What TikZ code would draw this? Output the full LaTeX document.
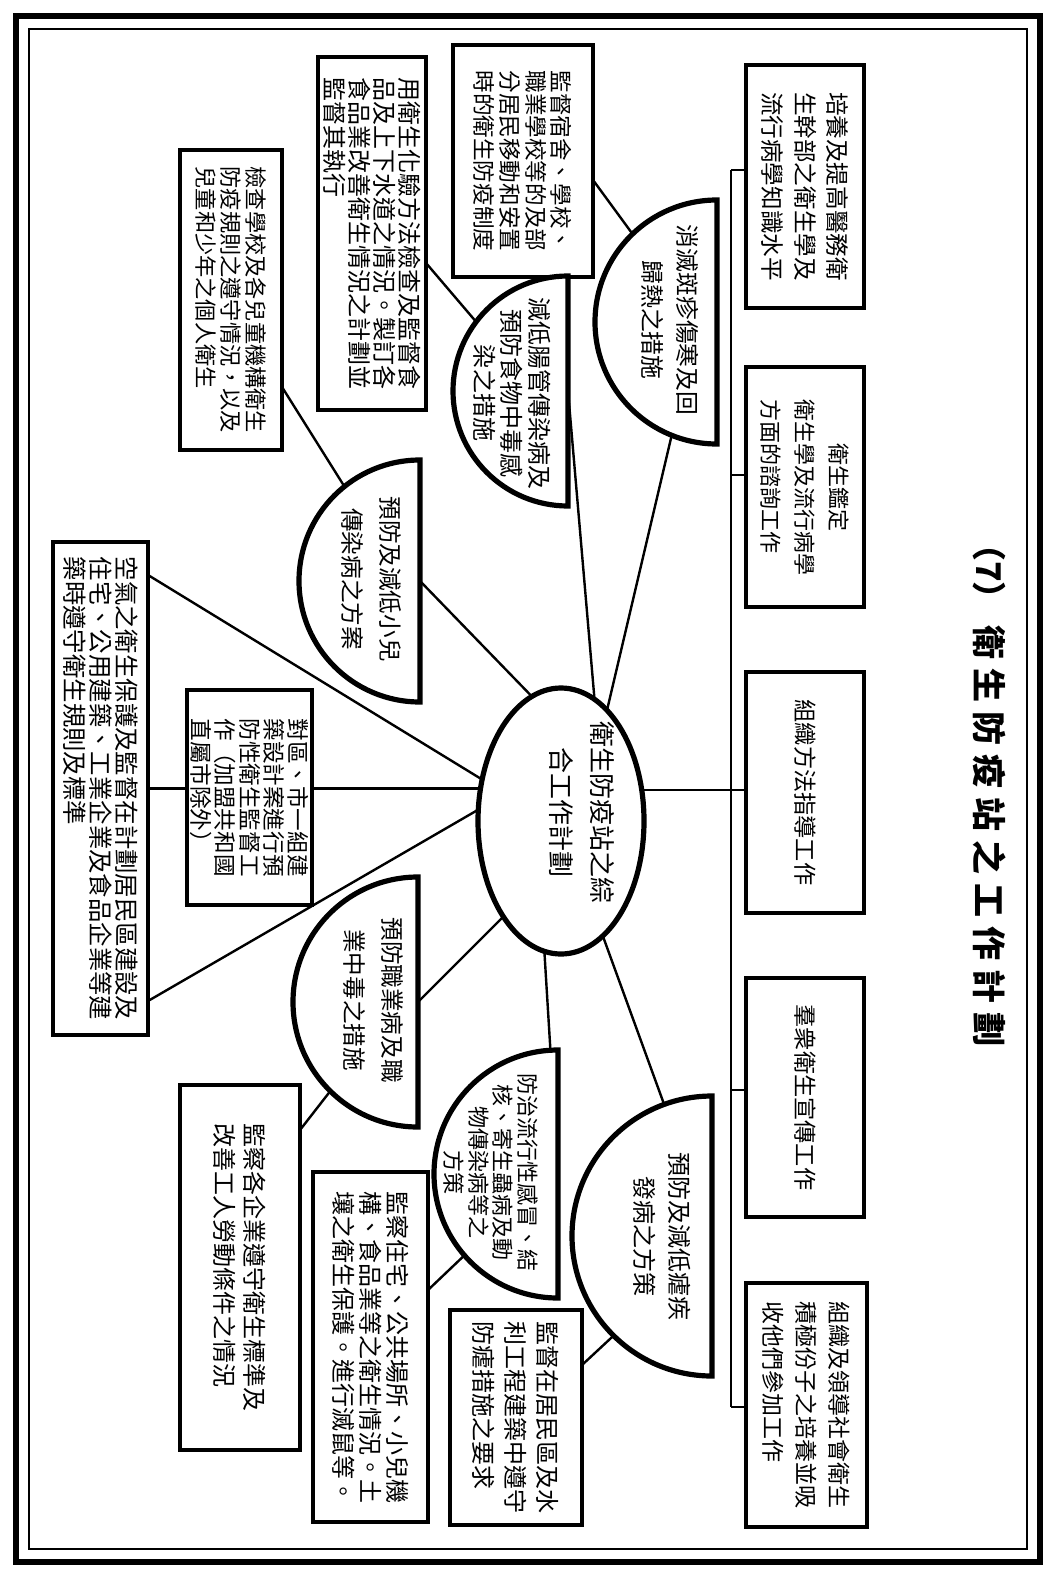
\documentclass[tikz,border=0pt]{standalone}
\usepackage{fontspec}
\setmainfont{Noto Sans CJK TC}
\usetikzlibrary{shapes.geometric,backgrounds}
\newcommand{\fs}[2]{\fontsize{#1}{#2}\selectfont\lineskiplimit=-50pt\lineskip=0pt}
\newcommand{\tsp}{\hspace{4.5pt}}
\begin{document}
\begin{tikzpicture}[x=0.5pt,y=-0.5pt,
  box/.style={draw,line width=2pt,rotate=-90,inner sep=0pt,fill=white,align=left},
  hc/.style={draw,line width=2.6pt,fill=white},
  conn/.style={line width=1.2pt},
  lbl/.style={rotate=-90,inner sep=0pt,align=center}]
\useasboundingbox (0,0) rectangle (1056,1578);
\draw[line width=3pt] (16,16) rectangle (1040,1562);
\draw[line width=0.7pt] (29,29) rectangle (1027,1549);

% title
\node[lbl,font={\fs{17}{20}\bfseries}] (title) at (990,787)
  {（7）\hspace{5pt}衛\tsp 生\tsp 防\tsp 疫\tsp 站\tsp 之\tsp 工\tsp 作\tsp 計\tsp 劃};

% top row boxes
\node[box,minimum width=121.5pt,minimum height=59pt,font={\fs{11.8}{16.3}}] (b1) at (805,186.5)
  {培養及提高醫務衛\\生幹部之衛生學及\\流行病學知識水平};
\node[box,minimum width=120pt,minimum height=59pt,font={\fs{11}{17}}] (b2) at (805,487)
  {\makebox[8em]{衛生鑑定}\\衛生學及流行病學\\方面的諮詢工作};
\node[box,minimum width=120.5pt,minimum height=59pt,font={\fs{11.6}{16}}] (b3) at (805,792.5)
  {組織方法指導工作};
\node[box,minimum width=119.5pt,minimum height=59pt,font={\fs{11.6}{16}}] (b4) at (805,1097.5)
  {羣衆衛生宣傳工作};
\node[box,minimum width=122pt,minimum height=60.5pt,font={\fs{11.5}{16.5}}] (b5) at (806.5,1405)
  {組織及領導社會衛生\\積極份子之培養並吸\\收他們參加工作};

% other boxes
\node[box,minimum width=116pt,minimum height=70pt,font={\fs{11.3}{12.8}}] (b6) at (523,161)
  {監督宿舍、學校、\\職業學校等的及部\\分居民移動和安置\\時的衛生防疫制度};
\node[box,minimum width=176.5pt,minimum height=54pt,font={\fs{12}{12.4}}] (b7) at (372,233.5)
  {用衛生化驗方法檢查及監督食\\品及上下水道之情況。製訂各\\食品業改善衛生情況之計劃並\\監督其執行};
\node[box,minimum width=150pt,minimum height=51pt,font={\fs{11.1}{12.6}}] (b8) at (231,300)
  {檢查學校及各兒童機構衛生\\防疫規則之遵守情況，以及\\兒童和少年之個人衛生};
\node[box,minimum width=246.5pt,minimum height=47.5pt,font={\fs{12.2}{13}}] (b9) at (100.5,788.5)
  {空氣之衛生保護及監督在計劃居民區建設及\\住宅、公用建築、工業企業及食品企業等建\\築時遵守衛生規則及標準};
\node[box,minimum width=107.5pt,minimum height=62.5pt,font={\fs{11.3}{12.2}}] (b10) at (249.5,797.5)
  {對區、市一組建\\築設計案進行預\\防性衛生監督工\\作（加盟共和國\\直屬市除外）};
\node[box,minimum width=182.5pt,minimum height=60pt,font={\fs{12}{15}}] (b11) at (240,1267.5)
  {監察各企業遵守衛生標準及\\改善工人勞動條件之情況};
\node[box,minimum width=175pt,minimum height=57.5pt,font={\fs{12}{13.4}}] (b12) at (370.5,1347)
  {監察住宅、公共場所、小兒機\\構、食品業等之衛生情況。土\\壤之衛生保護。進行滅鼠等。};
\node[box,minimum width=107.5pt,minimum height=66pt,font={\fs{12}{16}}] (b13) at (516,1417.5)
  {監督在居民區及水\\利工程建築中遵守\\防瘧措施之要求};

% centre ellipse
\node[draw,ellipse,line width=2.6pt,rotate=-90,minimum width=133pt,minimum height=83pt,
  inner sep=0pt,fill=white] (ctr) at (561,821) {};
\node[lbl,font={\fs{13}{20.5}}] (ctrt) at (582,812) {衛生防疫站之綜\\合工作計劃};

% semicircles (flat side right)
\draw[hc] (717,200) arc[start angle=90,end angle=270,radius=61pt] -- cycle;
\draw[hc] (568,276) arc[start angle=90,end angle=270,radius=57.5pt] -- cycle;
\draw[hc] (420,460) arc[start angle=90,end angle=270,radius=60.5pt] -- cycle;
\draw[hc] (418,877) arc[start angle=90,end angle=270,radius=62.5pt] -- cycle;
\draw[hc] (558,1050) arc[start angle=90,end angle=270,radius=62pt] -- cycle;
\draw[hc] (712,1096) arc[start angle=90,end angle=270,radius=70pt] -- cycle;

\node[lbl,font={\fs{11.9}{17.5}}] (h1) at (670,320) {消滅斑疹傷寒及回\\歸熱之措施};
\node[lbl,font={\fs{12}{13.8}}] (h2) at (512,393) {減低腸管傳染病及\\預防食物中毒感\\染之措施};
\node[lbl,font={\fs{11.8}{19}}] (h3) at (371,579) {預防及減低小兒\\傳染病之方案};
\node[lbl,font={\fs{11.8}{19}}] (h4) at (373,1000) {預防職業病及職\\業中毒之措施};
\node[lbl,font={\fs{11}{12.4}}] (h5) at (491,1172) {防治流行性感冒、結\\核、寄生蟲病及動\\物傳染病等之\\方策};
\node[lbl,font={\fs{12}{17.5}}] (h6) at (662,1236) {預防及減低瘧疾\\發病之方策};

% coordinates for connector ends
\coordinate (h1c) at (680,400);  \coordinate (e1) at (600,740);
\coordinate (h2c) at (568,391);  \coordinate (e2) at (598,740);
\coordinate (h3c) at (420,581);  \coordinate (e3) at (545,710);
\coordinate (h4c) at (418,1002); \coordinate (e4) at (545,875);
\coordinate (h5c) at (558,1174); \coordinate (e5) at (540,880);
\coordinate (h6c) at (712,1236);
\coordinate (p9a) at (148,575);  \coordinate (e7) at (545,818);
\coordinate (p9b) at (148,1001); \coordinate (e8) at (545,771);
\coordinate (p6) at (593,180);   \coordinate (q1) at (634,236);
\coordinate (p7) at (426,263);   \coordinate (q2) at (478,324);
\coordinate (p8) at (282,387);   \coordinate (q3) at (346,489);
\coordinate (p11) at (300,1130); \coordinate (q4) at (335,1085);
\coordinate (p12) at (428,1290); \coordinate (q5) at (470,1250);
\coordinate (p13) at (582,1365); \coordinate (q6) at (625,1325);
\coordinate (t1) at (731,170);
\coordinate (t2) at (731,475);
\coordinate (t3) at (731,790);
\coordinate (t4) at (731,1090);
\coordinate (t5) at (731,1407);

\begin{scope}[on background layer]
  % trunk and stubs
  \draw[conn] (t1) -- (t5);
  \draw[conn] (t1) -- (t1 -| b1.south);
  \draw[conn] (t2) -- (t2 -| b2.south);
  \draw[conn] (ctr.center |- t3) -- (t3 -| b3.south);
  \draw[conn] (t4) -- (t4 -| b4.south);
  \draw[conn] (t5) -- (t5 -| b5.south);
  % centre to semicircles
  \draw[conn] (h1c) -- (e1);
  \draw[conn] (h2c) -- (e2);
  \draw[conn] (h3c) -- (e3);
  \draw[conn] (h4c) -- (e4);
  \draw[conn] (h5c) -- (e5);
  \draw[conn] (h6c) -- (ctr.center);
  % centre to left boxes
  \draw[conn] (p9a) -- (e7);
  \draw[conn] (p9b) -- (e8);
  \draw[conn] (b9.north) -- (b9.north -| b10.south);
  \draw[conn] (b10.north |- b9.north) -- (ctr.center |- b9.north);
  % semicircles to boxes
  \draw[conn] (p6) -- (q1);
  \draw[conn] (p7) -- (q2);
  \draw[conn] (p8) -- (q3);
  \draw[conn] (p11) -- (q4);
  \draw[conn] (p12) -- (q5);
  \draw[conn] (p13) -- (q6);
\end{scope}
\end{tikzpicture}
\end{document}
